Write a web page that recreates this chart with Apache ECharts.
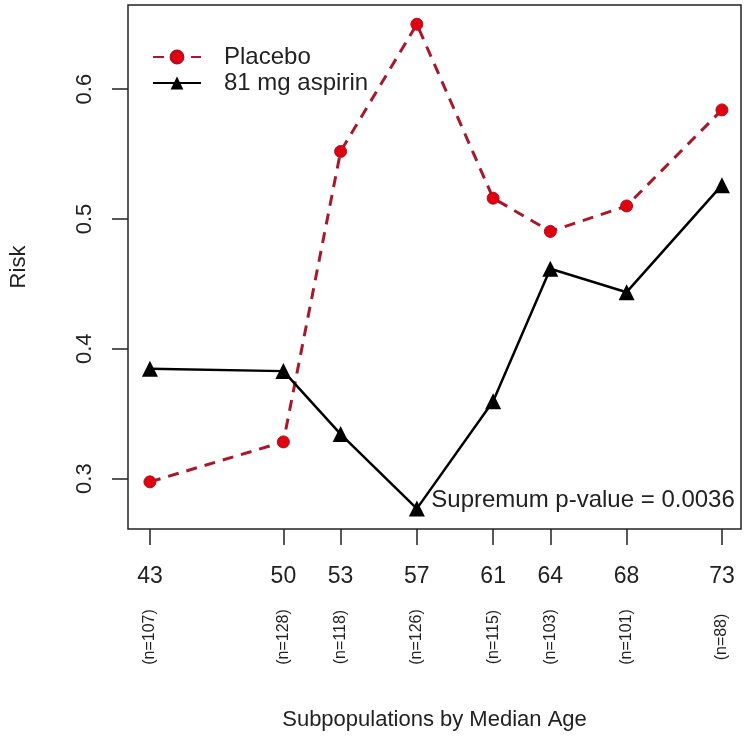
<!DOCTYPE html>
<html>
<head>
<meta charset="utf-8">
<script src="https://cdn.jsdelivr.net/npm/echarts@6/dist/echarts.min.js"></script>
<style>
html,body{margin:0;padding:0;background:#fff;}
#chart{width:750px;height:748px;}
</style>
</head>
<body>
<div id="chart"></div>
<script>
var ages = [43, 50, 53, 57, 61, 64, 68, 73];
var nCounts = ['(n=107)', '(n=128)', '(n=118)', '(n=126)', '(n=115)', '(n=103)', '(n=101)', '(n=88)'];
var placebo = [0.2975, 0.3283, 0.552, 0.650, 0.516, 0.4904, 0.510, 0.584];
var aspirin = [0.3846, 0.3828, 0.3343, 0.2769, 0.3596, 0.4616, 0.4436, 0.526];
var yTicks = [0.3, 0.4, 0.5, 0.6];
var annotationText = 'Supremum p-value = 0.0036';
var annotationPos = [57.73, 0.283];

var FONT = '"Liberation Sans", Arial, Helvetica, sans-serif';

function pairs(xs, ys) { return xs.map(function (x, i) { return [x, ys[i]]; }); }

var chart = echarts.init(document.getElementById('chart'), null, {renderer: 'canvas'});
chart.setOption({
  animation: false,
  backgroundColor: '#ffffff',
  textStyle: {fontFamily: FONT},
  grid: {left: 125, right: 9, top: 5, bottom: 219, show: true, borderColor: '#222', borderWidth: 1.5, backgroundColor: 'transparent'},
  legend: {
    orient: 'vertical', left: 147, top: 40, itemGap: 2,
    itemWidth: 48, itemHeight: 16,
    textStyle: {fontFamily: FONT, fontSize: 24, color: '#222', padding: [0, 0, 0, 18]},
    data: ['Placebo', '81 mg aspirin']
  },
  xAxis: [
    {
      type: 'value', min: 41.85, max: 74.0, position: 'bottom',
      name: 'Subpopulations by Median Age', nameLocation: 'middle', nameGap: 180,
      nameTextStyle: {fontFamily: FONT, fontSize: 22, color: '#222'},
      axisLine: {show: false},
      splitLine: {show: false},
      axisTick: {show: true, length: 16, customValues: ages, lineStyle: {color: '#222', width: 1.5}},
      axisLabel: {show: true, customValues: ages, margin: 36, fontFamily: FONT, fontSize: 23, color: '#222',
        formatter: function (v) { return String(Math.round(v)); }}
    },
    {
      type: 'value', min: 41.85, max: 74.0, position: 'bottom',
      axisLine: {show: false}, splitLine: {show: false},
      axisTick: {show: false},
      axisLabel: {show: true, customValues: ages, rotate: 90, align: 'center', verticalAlign: 'middle', margin: 108,
        fontFamily: FONT, fontSize: 16, color: '#222',
        formatter: function (v) { var i = ages.indexOf(Math.round(v)); return i >= 0 ? nCounts[i] : ''; }}
    }
  ],
  yAxis: {
    type: 'value', min: 0.2612, max: 0.6648,
    name: 'Risk', nameLocation: 'middle', nameGap: 98, nameRotate: 90,
    nameTextStyle: {fontFamily: FONT, fontSize: 22, color: '#222'},
    axisLine: {show: false}, splitLine: {show: false},
    axisTick: {show: true, length: 16, customValues: yTicks, lineStyle: {color: '#222', width: 1.5}},
    axisLabel: {show: true, customValues: yTicks, rotate: 90, margin: 32, fontFamily: FONT, fontSize: 22, color: '#222',
      formatter: function (v) { return v.toFixed(1); }}
  },
  series: [
    {
      name: 'Placebo', type: 'line', xAxisIndex: 0,
      data: pairs(ages, placebo),
      smooth: false,
      symbol: 'circle', symbolSize: 12,
      itemStyle: {color: '#e00010', borderColor: '#b01020', borderWidth: 1},
      lineStyle: {color: '#a8182a', width: 3, type: [11, 8]},
      z: 3
    },
    {
      name: '81 mg aspirin', type: 'line', xAxisIndex: 0,
      data: pairs(ages, aspirin),
      symbol: 'triangle', symbolSize: 16,
      itemStyle: {color: '#000'},
      lineStyle: {color: '#000', width: 2.5},
      z: 4,
      markPoint: {
        symbol: 'circle', symbolSize: 1,
        itemStyle: {color: 'rgba(0,0,0,0)'},
        label: {show: true, position: 'right', distance: 0, fontFamily: FONT, fontSize: 24, color: '#222',
          formatter: function () { return annotationText; }},
        data: [{coord: annotationPos, value: annotationText}]
      }
    }
  ]
});
</script>
</body>
</html>
